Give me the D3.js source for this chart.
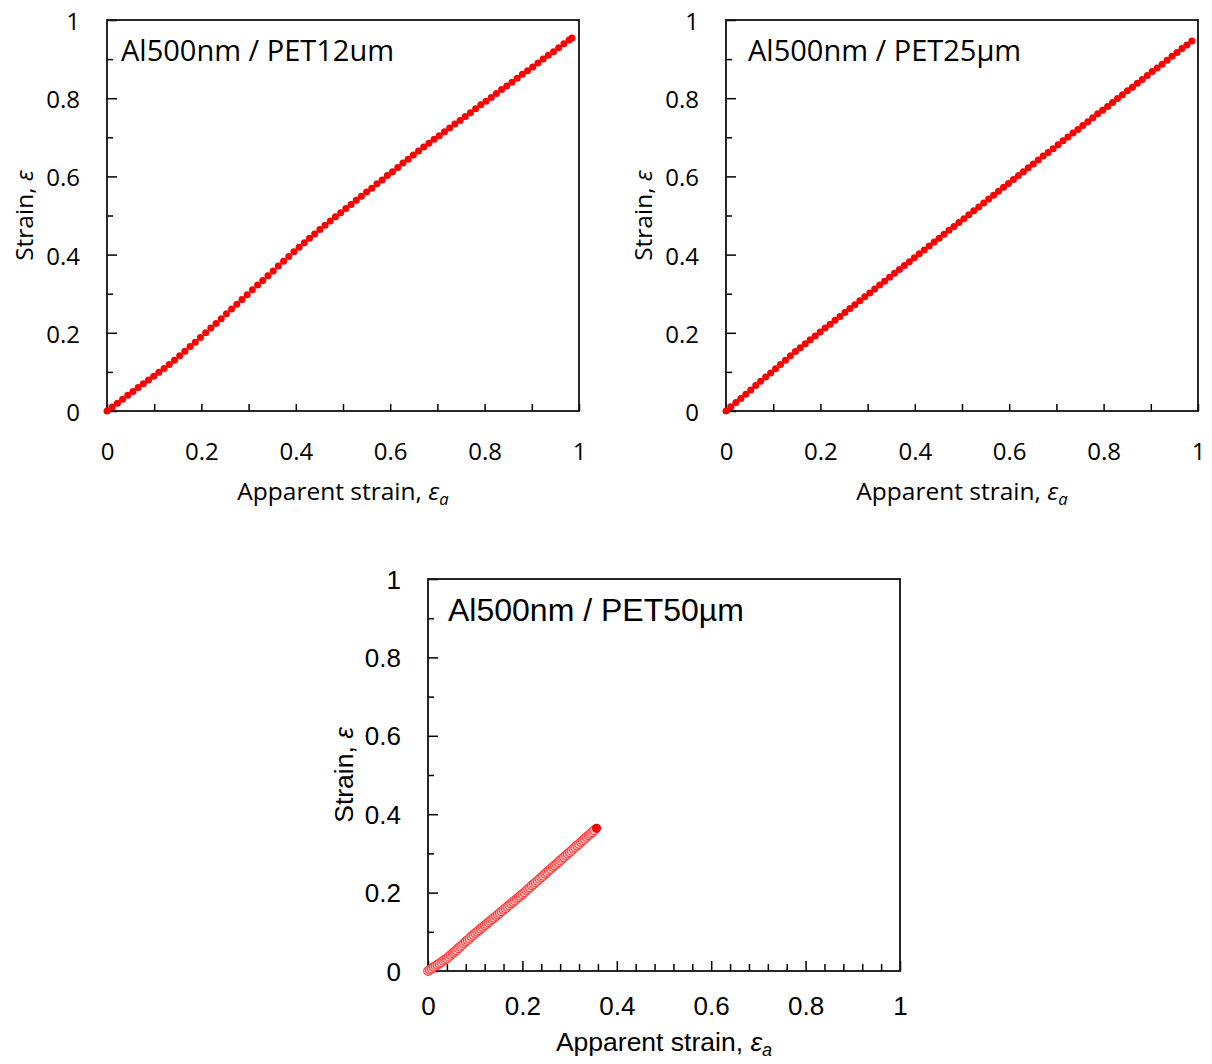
<!DOCTYPE html>
<html><head><meta charset="utf-8">
<script src="https://cdn.jsdelivr.net/npm/d3@7"></script>
<style>body{margin:0;background:#fff}</style>
</head><body>
<svg id="c" width="1212" height="1064"></svg>
<script>
// ---- data ----
const panelTitles = ["Al500nm / PET12um", "Al500nm / PET25\u00b5m", "Al500nm / PET50\u00b5m"];
const tickValues = [0, 0.2, 0.4, 0.6, 0.8, 1];
const tickLabels = ["0", "0.2", "0.4", "0.6", "0.8", "1"];
const xTitleText = "Apparent strain, ";
const yTitleText = "Strain, ";

const x12 = [0,0.011,0.022,0.033,0.044,0.055,0.066,0.077,0.088,0.099,0.110,0.121,0.132,0.143,0.154,0.165,0.176,0.187,0.198,0.209,0.220,0.231,0.242,0.253,0.264,0.275,0.286,0.297,0.308,0.319,0.330,0.341,0.352,0.363,0.374,0.385,0.396,0.407,0.418,0.429,0.440,0.451,0.462,0.473,0.484,0.495,0.506,0.517,0.528,0.539,0.550,0.561,0.572,0.583,0.594,0.605,0.616,0.627,0.638,0.649,0.660,0.671,0.682,0.693,0.704,0.715,0.726,0.737,0.748,0.759,0.770,0.781,0.792,0.803,0.814,0.825,0.836,0.847,0.858,0.869,0.880,0.891,0.902,0.913,0.924,0.935,0.946,0.957,0.968,0.979,0.985];
const y12 = [0,0.010,0.020,0.030,0.040,0.050,0.060,0.070,0.079,0.089,0.099,0.109,0.119,0.130,0.141,0.153,0.165,0.176,0.188,0.200,0.212,0.224,0.236,0.249,0.261,0.273,0.285,0.297,0.310,0.322,0.334,0.346,0.358,0.371,0.383,0.395,0.407,0.419,0.430,0.442,0.453,0.464,0.475,0.486,0.497,0.507,0.518,0.528,0.539,0.549,0.560,0.570,0.581,0.591,0.602,0.612,0.623,0.634,0.644,0.655,0.665,0.675,0.685,0.695,0.704,0.714,0.724,0.734,0.743,0.753,0.763,0.773,0.783,0.792,0.802,0.812,0.822,0.831,0.841,0.851,0.861,0.870,0.880,0.890,0.900,0.910,0.919,0.929,0.939,0.949,0.954];

const x25 = [0,0.0105,0.021,0.0315,0.042,0.0525,0.063,0.0735,0.084,0.0945,0.105,0.1155,0.126,0.1365,0.147,0.1575,0.168,0.1785,0.189,0.1995,0.210,0.2205,0.231,0.2415,0.252,0.2625,0.273,0.2835,0.294,0.3045,0.315,0.3255,0.336,0.3465,0.357,0.3675,0.378,0.3885,0.399,0.4095,0.420,0.4305,0.441,0.4515,0.462,0.4725,0.483,0.4935,0.504,0.5145,0.525,0.5355,0.546,0.5565,0.567,0.5775,0.588,0.5985,0.609,0.6195,0.630,0.6405,0.651,0.6615,0.672,0.6825,0.693,0.7035,0.714,0.7245,0.735,0.7455,0.756,0.7665,0.777,0.7875,0.798,0.8085,0.819,0.8295,0.840,0.8505,0.861,0.8715,0.882,0.8925,0.903,0.9135,0.924,0.9345,0.945,0.9555,0.966,0.9765,0.987];
const y25 = [0,0.011,0.022,0.032,0.043,0.054,0.065,0.076,0.087,0.097,0.108,0.119,0.130,0.141,0.152,0.162,0.172,0.182,0.192,0.202,0.212,0.222,0.232,0.242,0.252,0.262,0.272,0.282,0.292,0.302,0.312,0.322,0.332,0.342,0.352,0.362,0.372,0.382,0.392,0.402,0.412,0.422,0.432,0.442,0.452,0.462,0.472,0.482,0.492,0.502,0.512,0.522,0.532,0.542,0.552,0.562,0.572,0.582,0.592,0.602,0.612,0.622,0.632,0.642,0.652,0.661,0.671,0.681,0.691,0.701,0.711,0.720,0.730,0.740,0.750,0.760,0.769,0.779,0.789,0.799,0.809,0.819,0.828,0.838,0.848,0.858,0.868,0.877,0.887,0.897,0.907,0.917,0.927,0.936,0.946];

const x50 = [0,0.004,0.008,0.012,0.016,0.020,0.024,0.028,0.032,0.036,0.040,0.044,0.048,0.052,0.056,0.060,0.064,0.068,0.072,0.076,0.080,0.084,0.088,0.092,0.096,0.100,0.104,0.108,0.112,0.116,0.120,0.124,0.128,0.132,0.136,0.140,0.144,0.148,0.152,0.156,0.160,0.164,0.168,0.172,0.176,0.180,0.184,0.188,0.192,0.196,0.200,0.204,0.208,0.212,0.216,0.220,0.224,0.228,0.232,0.236,0.240,0.244,0.248,0.252,0.256,0.260,0.264,0.268,0.272,0.276,0.280,0.284,0.288,0.292,0.296,0.300,0.304,0.308,0.312,0.316,0.320,0.324,0.328,0.332,0.336,0.340,0.344,0.348,0.352,0.357];
const y50 = [0,0.003,0.006,0.010,0.013,0.016,0.019,0.022,0.026,0.029,0.032,0.036,0.041,0.045,0.049,0.053,0.058,0.062,0.066,0.071,0.075,0.079,0.083,0.088,0.092,0.096,0.100,0.104,0.108,0.112,0.116,0.120,0.124,0.128,0.132,0.136,0.140,0.144,0.148,0.152,0.156,0.160,0.164,0.168,0.172,0.176,0.180,0.184,0.188,0.192,0.196,0.200,0.205,0.209,0.213,0.218,0.222,0.226,0.230,0.235,0.239,0.243,0.248,0.252,0.256,0.260,0.265,0.269,0.273,0.277,0.282,0.286,0.290,0.295,0.299,0.303,0.307,0.312,0.316,0.320,0.324,0.329,0.333,0.337,0.342,0.346,0.350,0.354,0.359,0.364];

// ---- drawing ----
const svg = d3.select("#c");

const panels = [
  {title: panelTitles[0], xs: x12, ys: y12, left: 107, top: 20, w: 472, h: 391,
   font: "'Open Sans', sans-serif", tickFs: 24, titleFs: 29, labFs: 24.5,
   yLabPad: 27, xLabDy: 39, xTitleDy: 89, yTitleX: 33, xMinor: 0.1, xMinorLen: 7, xMajorLen: 7,
   style: "solid", titleDx: 14, titleDy: 41},
  {title: panelTitles[1], xs: x25, ys: y25, left: 726, top: 20, w: 472, h: 391,
   font: "'Open Sans', sans-serif", tickFs: 24, titleFs: 29, labFs: 24.5,
   yLabPad: 27, xLabDy: 39, xTitleDy: 89, yTitleX: 652, xMinor: 0.1, xMinorLen: 7, xMajorLen: 7,
   style: "solid", titleDx: 22, titleDy: 41},
  {title: panelTitles[2], xs: x50, ys: y50, left: 428, top: 579, w: 472, h: 392,
   font: "'Liberation Sans', Arial, sans-serif", tickFs: 26, titleFs: 32, labFs: 26.5,
   yLabPad: 27, xLabDy: 35, xTitleDy: 80, yTitleX: 353, xMinor: 0.04, xMinorLen: 7, xMajorLen: 10,
   style: "ring", titleDx: 20, titleDy: 42}
];

panels.forEach(p => {
  const x = d3.scaleLinear().domain([0, 1]).range([p.left, p.left + p.w]);
  const y = d3.scaleLinear().domain([0, 1]).range([p.top + p.h, p.top]);
  const g = svg.append("g").attr("font-family", p.font);
  const bottom = p.top + p.h;

  const yMinor = d3.range(0, 1.0001, 0.1).filter(v => Math.round(v * 10) % 2 === 1);
  g.append("g").attr("transform", `translate(${p.left},0)`)
    .call(d3.axisRight(y).tickValues(yMinor).tickSize(6).tickFormat(""))
    .call(a => a.select(".domain").remove())
    .call(a => a.selectAll("line").attr("stroke", "#000").attr("stroke-width", 1.5));
  g.append("g").attr("transform", `translate(${p.left},0)`)
    .call(d3.axisRight(y).tickValues(tickValues).tickSize(10).tickFormat(""))
    .call(a => a.select(".domain").remove())
    .call(a => a.selectAll("line").attr("stroke", "#000").attr("stroke-width", 1.5));
  g.append("g").attr("transform", `translate(${p.left},0)`)
    .call(d3.axisLeft(y).tickValues(tickValues).tickSize(0).tickPadding(p.yLabPad).tickFormat((d, i) => tickLabels[i]))
    .call(a => a.select(".domain").remove())
    .call(a => a.selectAll("text").attr("font-size", p.tickFs).attr("font-family", p.font).attr("fill", "#000")
      .attr("dy", null).attr("dominant-baseline", "central"));

  const xMinorVals = d3.range(0, 1.0001, p.xMinor).map(v => +v.toFixed(3)).filter(v => !tickValues.includes(v));
  g.append("g").attr("transform", `translate(0,${bottom})`)
    .call(d3.axisTop(x).tickValues(xMinorVals).tickSize(p.xMinorLen).tickFormat(""))
    .call(a => a.select(".domain").remove())
    .call(a => a.selectAll("line").attr("stroke", "#000").attr("stroke-width", 1.5));
  g.append("g").attr("transform", `translate(0,${bottom})`)
    .call(d3.axisTop(x).tickValues(tickValues).tickSize(p.xMajorLen).tickFormat(""))
    .call(a => a.select(".domain").remove())
    .call(a => a.selectAll("line").attr("stroke", "#000").attr("stroke-width", 1.5));
  g.append("g").attr("transform", `translate(0,${bottom})`)
    .call(d3.axisBottom(x).tickValues(tickValues).tickSize(0).tickFormat((d, i) => tickLabels[i]))
    .call(a => a.select(".domain").remove())
    .call(a => a.selectAll("text").attr("font-size", p.tickFs).attr("font-family", p.font).attr("fill", "#000")
      .attr("dy", null).attr("y", p.xLabDy).attr("dominant-baseline", "central"));

  g.append("rect").attr("x", p.left).attr("y", p.top).attr("width", p.w).attr("height", p.h)
    .attr("fill", "none").attr("stroke", "#111").attr("stroke-width", 1.8);

  const pts = p.xs.map((v, i) => [v, p.ys[i]]);
  if (p.style === "solid") {
    g.append("g").selectAll("circle").data(pts).join("circle")
      .attr("cx", d => x(d[0])).attr("cy", d => y(d[1])).attr("r", 3.5)
      .attr("fill", "#ff0000");
  } else {
    g.append("g").selectAll("circle").data(pts.slice(0, -1)).join("circle")
      .attr("cx", d => x(d[0])).attr("cy", d => y(d[1])).attr("r", 4.3)
      .attr("fill", "#ffcaca").attr("stroke", "#ff3a3a").attr("stroke-width", 1.2);
    const last = pts[pts.length - 1];
    g.append("circle").attr("cx", x(last[0])).attr("cy", y(last[1])).attr("r", 4.6).attr("fill", "#ff0000");
  }

  g.append("text").attr("x", p.left + p.titleDx).attr("y", p.top + p.titleDy)
    .attr("font-size", p.titleFs).attr("fill", "#000").text(p.title);

  const xt = g.append("text").attr("x", p.left + p.w / 2).attr("y", bottom + p.xTitleDy)
    .attr("text-anchor", "middle").attr("font-size", p.labFs).attr("fill", "#000");
  xt.append("tspan").text(xTitleText);
  xt.append("tspan").attr("font-style", "italic").text("\u03b5");
  xt.append("tspan").attr("font-style", "italic").attr("font-size", p.labFs * 0.68).attr("dy", 5).text("a");

  const yt = g.append("text").attr("transform", `translate(${p.yTitleX},${p.top + p.h / 2}) rotate(-90)`)
    .attr("text-anchor", "middle").attr("font-size", p.labFs).attr("fill", "#000");
  yt.append("tspan").text(yTitleText);
  yt.append("tspan").attr("font-style", "italic").text("\u03b5");
});
</script>
</body></html>
